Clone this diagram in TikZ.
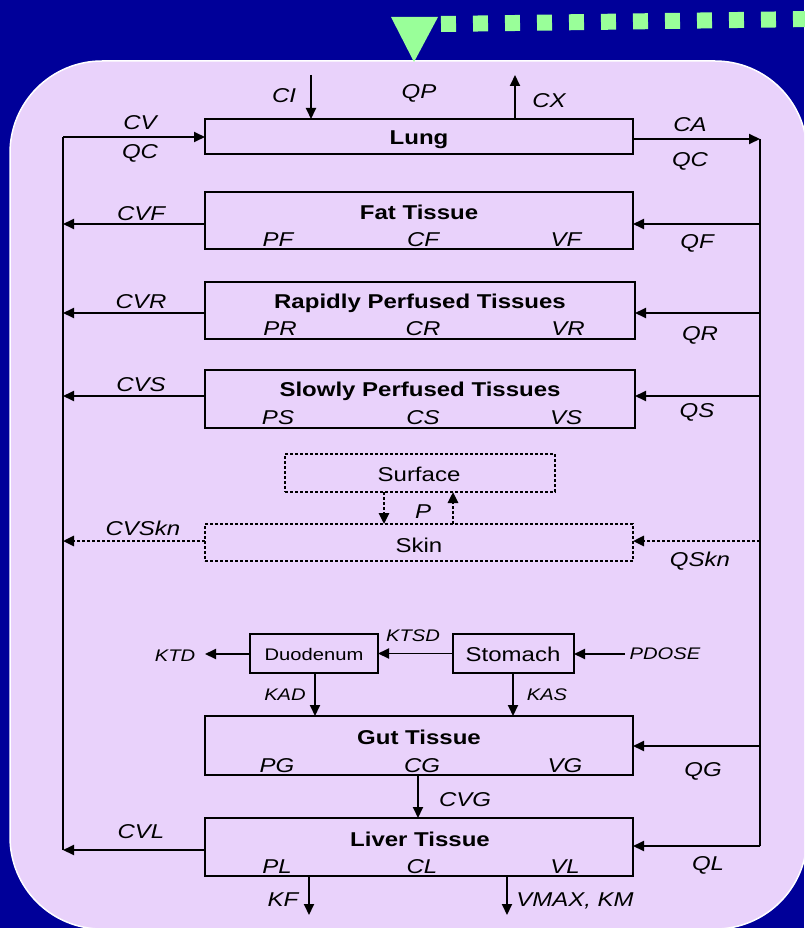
\documentclass[tikz,border=0pt]{standalone}
\usepackage{fontspec}
\setmainfont{Liberation Sans}[FakeStretch=1.2]
\usetikzlibrary{arrows.meta}
\definecolor{navybg}{HTML}{000099}
\definecolor{lavbg}{HTML}{E9D2FB}
\definecolor{greenmk}{HTML}{99FF99}
\tikzset{
  box/.style={draw=black, line width=1.9pt, inner sep=0pt, outer sep=0pt},
  dbox/.style={draw=black, line width=2.6pt, dash pattern=on 2.6pt off 2.4pt, inner sep=0pt, outer sep=0pt},
  arr/.style={line width=1.9pt, -{Triangle[length=11pt,width=10pt]}},
  darr/.style={line width=2.6pt, dash pattern=on 2.6pt off 2.4pt, -{Triangle[length=11pt,width=10pt]}},
  bus/.style={line width=1.9pt},
  txt/.style={inner sep=0pt, text height=14.4pt, text depth=0pt},
  stxt/.style={inner sep=0pt, text height=12pt, text depth=0pt},
  lab/.style={txt, font=\fontsize{20}{24}\selectfont\itshape},
  ttl/.style={txt, font=\fontsize{20}{24}\selectfont\bfseries},
  plain/.style={txt, font=\fontsize{20}{24}\selectfont},
  slab/.style={stxt, font=\fontsize{16.8}{20}\selectfont\itshape},
  splain/.style={stxt, font=\fontsize{16.8}{20}\selectfont},
}
\begin{document}
\begin{tikzpicture}[x=1pt,y=-1pt]
\fill[navybg] (0,0) rectangle (804,928);
\useasboundingbox (0,0) rectangle (804,928);
\begin{scope}
\clip (0,0) rectangle (804,928);
\draw[white, line width=1.5pt, fill=lavbg, rounded corners=92pt] (10,61) rectangle (807,929);
\end{scope}
% green marker
\fill[greenmk] (391,17) -- (438,17) -- (414,62) -- cycle;
\draw[greenmk, line width=16pt, dash pattern=on 15pt off 17pt] (441,24) -- (812,19);

% boxes
\node[box, minimum width=428pt, minimum height=35pt] (lung) at (419,136.5) {};
\node[box, minimum width=428pt, minimum height=57pt] (fat) at (419,220.5) {};
\node[box, minimum width=430pt, minimum height=57pt] (rapid) at (420,310.5) {};
\node[box, minimum width=430pt, minimum height=58pt] (slow) at (420,399) {};
\node[dbox, minimum width=270pt, minimum height=38pt] (surface) at (420,473) {};
\node[dbox, minimum width=428pt, minimum height=37pt] (skin) at (419,542.5) {};
\node[box, minimum width=128pt, minimum height=39pt] (duo) at (314,653.5) {};
\node[box, minimum width=121pt, minimum height=39pt] (stom) at (513.5,653.5) {};
\node[box, minimum width=428pt, minimum height=59pt] (gut) at (419,745.5) {};
\node[box, minimum width=428pt, minimum height=58pt] (liver) at (419,847) {};

% texts inside boxes
\node[ttl] (tlung) at (419,137) {Lung};
\node[ttl] (tfat) at (419,212) {Fat Tissue};
\node[lab] (pf) at (278,239) {PF};
\node[lab] (cf) at (423,239) {CF};
\node[lab] (vf) at (566,239) {VF};
\node[ttl] (trapid) at (420,301) {Rapidly Perfused Tissues};
\node[lab] (pr) at (280,328) {PR};
\node[lab] (cr) at (423,328) {CR};
\node[lab] (vr) at (568,328) {VR};
\node[ttl] (tslow) at (420,389) {Slowly Perfused Tissues};
\node[lab] (ps) at (278,417) {PS};
\node[lab] (cs) at (423,417) {CS};
\node[lab] (vs) at (566,417) {VS};
\node[plain] (tsurf) at (419,474) {Surface};
\node[plain] (tskin) at (419,545) {Skin};
\node[splain] (tduo) at (314,654) {Duodenum};
\node[plain] (tstom) at (513,654) {Stomach};
\node[ttl] (tgut) at (419,737) {Gut Tissue};
\node[lab] (pg) at (277,765) {PG};
\node[lab] (cg) at (422,765) {CG};
\node[lab] (vg) at (565,765) {VG};
\node[ttl] (tliver) at (420,839) {Liver Tissue};
\node[lab] (pl) at (277,866) {PL};
\node[lab] (cl) at (422,866) {CL};
\node[lab] (vl) at (565,866) {VL};

% outside labels
\node[lab] (lci) at (284,95) {CI};
\node[lab] (lqp) at (419,91) {QP};
\node[lab] (lcx) at (549,100) {CX};
\node[lab] (lcv) at (140,122.5) {CV};
\node[lab] (lqc) at (140,151) {QC};
\node[lab] (lca) at (690,124) {CA};
\node[lab] (lqc2) at (690,159) {QC};
\node[lab] (lcvf) at (141,213) {CVF};
\node[lab] (lqf) at (697,241) {QF};
\node[lab] (lcvr) at (141,301) {CVR};
\node[lab] (lqr) at (700,333) {QR};
\node[lab] (lcvs) at (141,384) {CVS};
\node[lab] (lqs) at (697,410) {QS};
\node[lab] (lp) at (423,511) {P};
\node[lab] (lcvskn) at (143,528) {CVSkn};
\node[lab] (lqskn) at (700,559) {QSkn};
\node[slab] (lktd) at (175,655) {KTD};
\node[slab] (lktsd) at (413,635) {KTSD};
\node[slab] (lpdose) at (665,653) {PDOSE};
\node[slab] (lkad) at (285,694) {KAD};
\node[slab] (lkas) at (547,694) {KAS};
\node[lab] (lqg) at (703,769) {QG};
\node[lab] (lcvg) at (465,799) {CVG};
\node[lab] (lcvl) at (141,831) {CVL};
\node[lab] (lql) at (708,863) {QL};
\node[lab] (lkf) at (283,899) {KF};
\node[lab] (lvmax) at (575,899) {VMAX, KM};

% coordinates
\coordinate (ci) at (311,75);
\coordinate (cx) at (515,75);
\coordinate (lt) at (63,137);
\coordinate (lb) at (63,850);
\coordinate (rt) at (760,139);
\coordinate (rb) at (760,846);
\coordinate (yfat) at (0,224);
\coordinate (yrapid) at (0,313);
\coordinate (yslow) at (0,396);
\coordinate (yskin) at (0,541);
\coordinate (ygut) at (0,746);
\coordinate (ktd) at (205,654);
\coordinate (pdose) at (625,654);
\coordinate (xkad) at (315,0);
\coordinate (xkas) at (513,0);
\coordinate (xcvg) at (418,0);
\coordinate (kf) at (309,915);
\coordinate (vmax) at (507,915);
\coordinate (xpd) at (384,0);
\coordinate (xpu) at (453,0);

% lung connectors
\draw[arr] (ci) -- (ci |- lung.north);
\draw[arr] (cx |- lung.north) -- (cx);
\draw[bus] (lb) -- (lt);
\draw[arr] (lt) -- (lt -| lung.west);
\draw[arr] (rt -| lung.east) -- (rt);
\draw[bus] (rt) -- (rb);

% tissues
\draw[arr] (fat.west |- yfat) -- (lt |- yfat);
\draw[arr] (rt |- yfat) -- (fat.east |- yfat);
\draw[arr] (rapid.west |- yrapid) -- (lt |- yrapid);
\draw[arr] (rt |- yrapid) -- (rapid.east |- yrapid);
\draw[arr] (slow.west |- yslow) -- (lt |- yslow);
\draw[arr] (rt |- yslow) -- (slow.east |- yslow);
\draw[darr] (skin.west |- yskin) -- (lt |- yskin);
\draw[darr] (rt |- yskin) -- (skin.east |- yskin);
\draw[darr] (surface.south -| xpd) -- (skin.north -| xpd);
\draw[darr] (skin.north -| xpu) -- (surface.south -| xpu);

% GI
\draw[arr] (duo.west |- ktd) -- (ktd);
\draw[arr] (stom.west) -- (duo.east);
\draw[arr] (pdose) -- (stom.east |- pdose);
\draw[arr] (duo.south -| xkad) -- (gut.north -| xkad);
\draw[arr] (stom.south -| xkas) -- (gut.north -| xkas);
\draw[arr] (rt |- ygut) -- (gut.east |- ygut);
\draw[arr] (gut.south -| xcvg) -- (liver.north -| xcvg);

% liver
\draw[arr] (liver.west |- lb) -- (lb);
\draw[arr] (rb) -- (liver.east |- rb);
\draw[arr] (liver.south -| kf) -- (kf);
\draw[arr] (liver.south -| vmax) -- (vmax);
\end{tikzpicture}
\end{document}
